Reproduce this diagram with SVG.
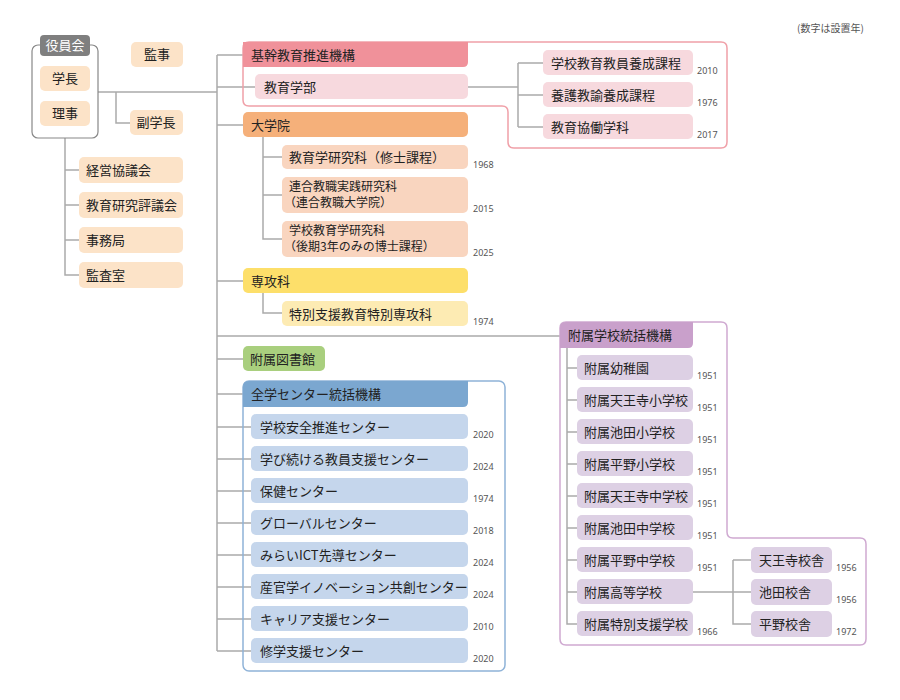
<svg xmlns="http://www.w3.org/2000/svg" width="900" height="700" viewBox="0 0 900 700">
<style>
text{font-family:"Noto Sans CJK JP","Noto Sans",sans-serif;font-size:13px;fill:#222}
.t2{font-size:12px}
.y{font-size:9px;fill:#555;font-family:"Noto Sans","Liberation Sans",sans-serif}
.c{fill:none;stroke:#aaa;stroke-width:1.5}
.cr{fill:#fce3c8}
.pk{fill:#f7d9de}.or{fill:#f9d5bf}.ye{fill:#fdebb3}.bl{fill:#c5d6ec}.pu{fill:#ddd0e4}
</style>
<rect width="900" height="700" fill="#fff"/>
<text x="797" y="32" style="font-size:10px;fill:#555">(数字は設置年)</text>
<g id="connectors">
<path class="c" d="M98 92H217M116 92V123H130M217 55V651M217 55H243M217 87H255M217 125H243M217 281H243M217 336H560M217 359H243M217 394H243"/>
<path class="c" d="M217 427H251M217 459H251M217 491H251M217 523H251M217 555H251M217 587H251M217 619H251M217 651H251"/>
<path class="c" d="M65 138V275H79M65 170H79M65 205H79M65 240H79"/>
<path class="c" d="M468 87H518M518 63V127M518 63H543M518 95H543M518 127H543"/>
<path class="c" d="M263 137V239H282M263 157H282M263 195H282"/>
<path class="c" d="M263 293V313H282"/>
<path class="c" d="M567 336V624H577M567 368H577M567 400H577M567 432H577M567 464H577M567 496H577M567 528H577M567 560H577M567 592H577"/>
<path class="c" d="M693 592H751M733 560V624H751M733 560H751"/>
</g>
<g id="board">
<rect x="32" y="45" width="66" height="93" rx="6" fill="#fff" stroke="#888" stroke-width="1.2"/>
<rect x="40" y="35" width="50" height="21" rx="4" fill="#7f7f7f"/>
<text x="65" y="50" text-anchor="middle" style="fill:#fff">役員会</text>
<rect class="cr" x="40" y="66" width="50" height="25" rx="5"/><text x="65" y="83" text-anchor="middle">学長</text>
<rect class="cr" x="40" y="101" width="50" height="25" rx="5"/><text x="65" y="118" text-anchor="middle">理事</text>
</g>
<g id="kanji"><rect class="cr" x="131" y="42" width="52" height="25" rx="5"/><text x="157" y="59" text-anchor="middle">監事</text></g>
<g id="fukugakucho"><rect class="cr" x="130" y="110" width="53" height="25" rx="5"/><text x="156" y="127" text-anchor="middle">副学長</text></g>
<g id="left">
<rect class="cr" x="79" y="157" width="104" height="26" rx="5"/><text x="86" y="175">経営協議会</text>
<rect class="cr" x="79" y="192" width="104" height="26" rx="5"/><text x="86" y="210">教育研究評議会</text>
<rect class="cr" x="79" y="227" width="104" height="26" rx="5"/><text x="86" y="245">事務局</text>
<rect class="cr" x="79" y="262" width="104" height="26" rx="5"/><text x="86" y="280">監査室</text>
</g>
<g id="kikan">
<path d="M249 42H721Q727 42 727 48V142Q727 148 721 148H514Q508 148 508 142V112Q508 106 502 106H249Q243 106 243 100V48Q243 42 249 42Z" fill="none" stroke="#f0a0a8" stroke-width="1.5"/>
<path d="M243 42H468V62Q468 67 463 67H243Z" fill="#f0919a"/>
<text x="251" y="60">基幹教育推進機構</text>
<rect class="pk" x="255" y="74" width="213" height="25" rx="5"/><text x="264" y="92">教育学部</text>
<rect class="pk" x="543" y="50" width="150" height="25" rx="5"/><text x="551" y="68">学校教育教員養成課程</text><text class="y" x="697" y="74">2010</text>
<rect class="pk" x="543" y="82" width="150" height="25" rx="5"/><text x="551" y="100">養護教諭養成課程</text><text class="y" x="697" y="106">1976</text>
<rect class="pk" x="543" y="114" width="150" height="25" rx="5"/><text x="551" y="132">教育協働学科</text><text class="y" x="697" y="138">2017</text>
</g>
<g id="daigakuin">
<rect x="243" y="112" width="225" height="25" rx="5" fill="#f5b07a"/><text x="251" y="130">大学院</text>
<rect class="or" x="282" y="145" width="186" height="24" rx="5"/><text x="289" y="162">教育学研究科（修士課程）</text><text class="y" x="473" y="168">1968</text>
<rect class="or" x="282" y="177" width="186" height="36" rx="5"/><text class="t2" x="289" y="191">連合教職実践研究科</text><text class="t2" x="284" y="207">（連合教職大学院）</text><text class="y" x="473" y="212">2015</text>
<rect class="or" x="282" y="221" width="186" height="36" rx="5"/><text class="t2" x="289" y="235">学校教育学研究科</text><text class="t2" x="284" y="251">（後期3年のみの博士課程）</text><text class="y" x="473" y="256">2025</text>
</g>
<g id="senkoka">
<rect x="243" y="268" width="225" height="25" rx="5" fill="#fddf6a"/><text x="251" y="286">専攻科</text>
<rect class="ye" x="282" y="301" width="186" height="25" rx="5"/><text x="289" y="319">特別支援教育特別専攻科</text><text class="y" x="473" y="325">1974</text>
</g>
<g id="library"><rect x="243" y="346" width="82" height="25" rx="5" fill="#a9cf7e"/><text x="250" y="364">附属図書館</text></g>
<g id="center">
<rect x="243" y="381" width="262" height="290" rx="6" fill="none" stroke="#8fb3d8" stroke-width="1.5"/>
<path d="M249 381H468V402Q468 407 463 407H243V387Q243 381 249 381Z" fill="#7ba7d0"/>
<text x="251" y="399">全学センター統括機構</text>
<rect class="bl" x="251" y="414" width="217" height="25" rx="5"/><text x="260" y="432">学校安全推進センター</text><text class="y" x="473" y="438">2020</text>
<rect class="bl" x="251" y="446" width="217" height="25" rx="5"/><text x="260" y="464">学び続ける教員支援センター</text><text class="y" x="473" y="470">2024</text>
<rect class="bl" x="251" y="478" width="217" height="25" rx="5"/><text x="260" y="496">保健センター</text><text class="y" x="473" y="502">1974</text>
<rect class="bl" x="251" y="510" width="217" height="25" rx="5"/><text x="260" y="528">グローバルセンター</text><text class="y" x="473" y="534">2018</text>
<rect class="bl" x="251" y="542" width="217" height="25" rx="5"/><text x="260" y="560">みらいICT先導センター</text><text class="y" x="473" y="566">2024</text>
<rect class="bl" x="251" y="574" width="217" height="25" rx="5"/><text x="260" y="592">産官学イノベーション共創センター</text><text class="y" x="473" y="598">2024</text>
<rect class="bl" x="251" y="606" width="217" height="25" rx="5"/><text x="260" y="624">キャリア支援センター</text><text class="y" x="473" y="630">2010</text>
<rect class="bl" x="251" y="638" width="217" height="25" rx="5"/><text x="260" y="656">修学支援センター</text><text class="y" x="473" y="662">2020</text>
</g>
<g id="fuzoku">
<path d="M566 322H721Q727 322 727 328V532Q727 538 733 538H860Q866 538 866 544V639Q866 645 860 645H566Q560 645 560 639V328Q560 322 566 322Z" fill="none" stroke="#cfa9d1" stroke-width="1.5"/>
<path d="M566 322H693V343Q693 348 688 348H560V328Q560 322 566 322Z" fill="#c9a0cb"/>
<text x="568" y="340">附属学校統括機構</text>
<rect class="pu" x="577" y="355" width="116" height="25" rx="5"/><text x="584" y="373">附属幼稚園</text><text class="y" x="697" y="379">1951</text>
<rect class="pu" x="577" y="387" width="116" height="25" rx="5"/><text x="584" y="405">附属天王寺小学校</text><text class="y" x="697" y="411">1951</text>
<rect class="pu" x="577" y="419" width="116" height="25" rx="5"/><text x="584" y="437">附属池田小学校</text><text class="y" x="697" y="443">1951</text>
<rect class="pu" x="577" y="451" width="116" height="25" rx="5"/><text x="584" y="469">附属平野小学校</text><text class="y" x="697" y="475">1951</text>
<rect class="pu" x="577" y="483" width="116" height="25" rx="5"/><text x="584" y="501">附属天王寺中学校</text><text class="y" x="697" y="507">1951</text>
<rect class="pu" x="577" y="515" width="116" height="25" rx="5"/><text x="584" y="533">附属池田中学校</text><text class="y" x="697" y="539">1951</text>
<rect class="pu" x="577" y="547" width="116" height="25" rx="5"/><text x="584" y="565">附属平野中学校</text><text class="y" x="697" y="571">1951</text>
<rect class="pu" x="577" y="579" width="116" height="25" rx="5"/><text x="584" y="597">附属高等学校</text>
<rect class="pu" x="577" y="611" width="116" height="25" rx="5"/><text x="584" y="629">附属特別支援学校</text><text class="y" x="697" y="635">1966</text>
<rect class="pu" x="751" y="547" width="81" height="26" rx="5"/><text x="759" y="565">天王寺校舎</text><text class="y" x="836" y="571">1956</text>
<rect class="pu" x="751" y="579" width="81" height="26" rx="5"/><text x="759" y="597">池田校舎</text><text class="y" x="836" y="603">1956</text>
<rect class="pu" x="751" y="611" width="81" height="26" rx="5"/><text x="759" y="629">平野校舎</text><text class="y" x="836" y="635">1972</text>
</g>
</svg>
